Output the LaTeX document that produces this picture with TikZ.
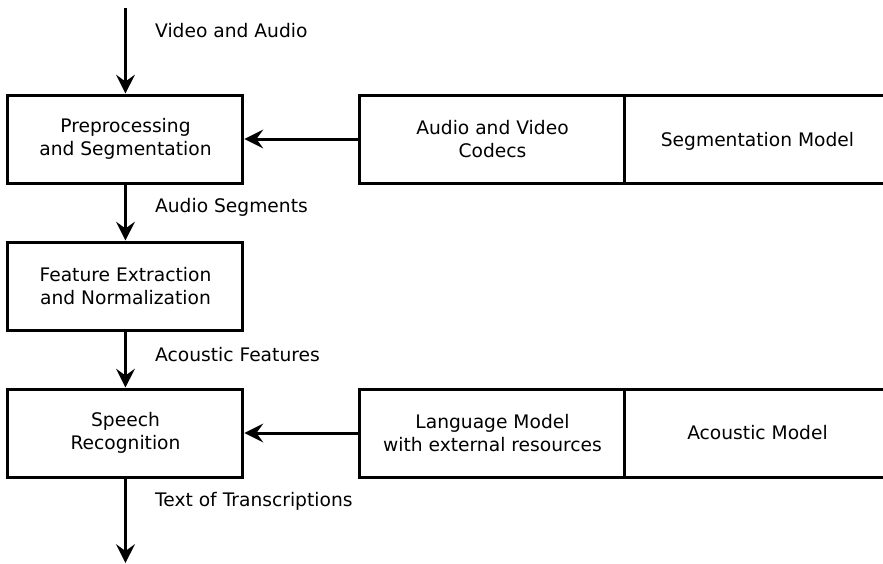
\documentclass[tikz,border=0pt]{standalone}
\usepackage{fontspec}
\setmainfont{DejaVu Sans}
\usetikzlibrary{arrows.meta,positioning}

\begin{document}
\begin{tikzpicture}[->,>={Stealth[length=14pt,width=14pt,inset=5pt]},line width=2.25pt,node distance=110.25pt,
    block/.style={rectangle,draw,line width=2.25pt,minimum width=176.25pt,minimum height=66pt,align=center,font=\fontsize{14}{17.5}\selectfont},
    model/.style={block,minimum width=198.75pt},
    lbl/.style={anchor=west,at start,xshift=17.8pt,yshift=-17.25pt,font=\fontsize{14}{17.5}\selectfont}]

    \useasboundingbox (0,0) rectangle (662.25pt,-423pt);

    % processing chain
    \node[block] (prep) at (94.1pt,-104.25pt) {Preprocessing\\and Segmentation};
    \node[block] (feat) [below of = prep] {Feature Extraction\\and Normalization};
    \node[block] (recog) [below of = feat] {Speech\\Recognition};

    \coordinate[above of = prep, node distance=98.25pt] (src);
    \coordinate[below of = recog, node distance=97.5pt] (sink);

    % models
    \node[model] (codec) [right of = prep, node distance=275.25pt] {Audio and Video\\Codecs};
    \node[model, text depth=0pt] (segm) [right of = codec, node distance=198.75pt] {Segmentation Model};
    \node[model] (lm) [right of = recog, node distance=275.25pt] {Language Model\\with external resources};
    \node[model] (am) [right of = lm, node distance=198.75pt] {Acoustic Model};

    \path
        (src) edge node[lbl] {Video and Audio} (prep)
        (prep) edge node[lbl] {Audio Segments} (feat)
        (feat) edge node[lbl] {Acoustic Features} (recog)
        (recog) edge node[lbl] {Text of Transcriptions} (sink)
        (codec) edge (prep)
        (lm) edge (recog)
    ;

\end{tikzpicture}
\end{document}
